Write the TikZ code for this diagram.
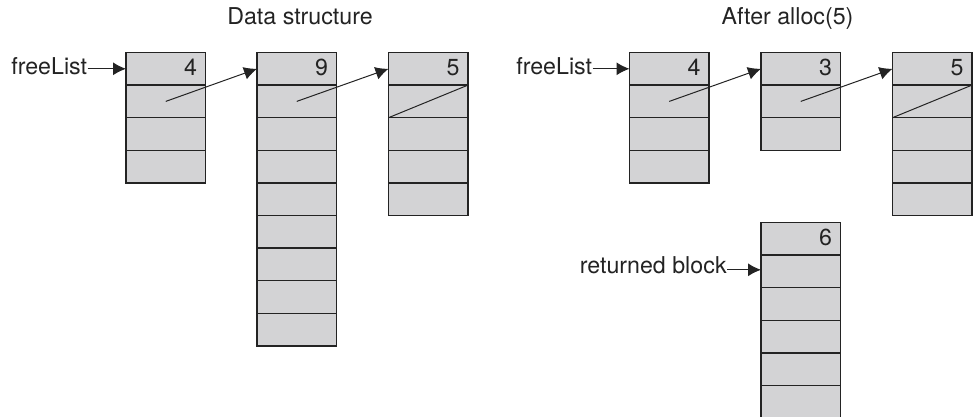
\documentclass[tikz,border=0pt]{standalone}
\usepackage{fontspec}
\setmainfont{TeX Gyre Heros}
\usetikzlibrary{arrows.meta}
\definecolor{cellfill}{RGB}{211,211,213}
\definecolor{ink}{RGB}{35,35,35}
\begin{document}
\begin{tikzpicture}[x=0.5pt,y=-0.5pt,
  cell/.style={draw=ink, fill=cellfill, line width=0.75pt, minimum width=39.75pt, minimum height=16.3pt, inner sep=0pt, outer sep=0pt, anchor=north west},
  txt/.style={inner sep=0pt, text=ink, font=\fontsize{11.6pt}{13pt}\selectfont},
  ptr/.style={draw=ink, line width=0.5pt, -{Latex[length=6.5pt,width=6.5pt]}},
  nil/.style={draw=ink, line width=0.5pt}]
\useasboundingbox (0,0) rectangle (973,417);
\clip (0,0) rectangle (973,417);
% blocks: name / left x / top y / rows / size
\foreach \n/\x/\y/\k/\v in {a1/126/52.5/4/4, a2/257/52.5/9/9, a3/388.5/52.5/5/5,
                            b1/629.5/52.5/4/4, b2/761/52.5/3/3, b3/892.5/52.5/5/5,
                            b4/761/222.5/6/6} {
  \foreach \i in {1,...,\k} {
    \node[cell] (\n-\i) at (\x,{\y+(\i-1)*32.6}) {};
  }
  \node[txt, anchor=base east] (\n-v) at ([xshift=-4pt,yshift=-3.2pt]\n-1.east) {\v};
}
% titles
\node[txt, anchor=base] (t1) at (300,25) {Data structure};
\node[txt, anchor=base] (t2) at (787.5,25) {After alloc(5)};
% freeList labels
\node[txt, anchor=base east] (fl1) at (87.5,75) {freeList};
\node[txt, anchor=base east] (fl2) at (592.5,75) {freeList};
\node[txt, anchor=base east] (rb) at (727,273.5) {returned block};
\draw[ptr] (fl1.east |- a1-1.west) -- (a1-1.west);
\draw[ptr] (fl2.east |- b1-1.west) -- (b1-1.west);
\draw[ptr] ([yshift=0.8pt]rb.east |- b4-2.west) -- ([yshift=0.8pt]b4-2.west);
% links
\draw[ptr] (a1-2.center) -- (a2-1.west);
\draw[ptr] (a2-2.center) -- (a3-1.west);
\draw[nil] (a3-2.south west) -- (a3-2.north east);
\draw[ptr] (b1-2.center) -- (b2-1.west);
\draw[ptr] (b2-2.center) -- (b3-1.west);
\draw[nil] (b3-2.south west) -- (b3-2.north east);
\end{tikzpicture}
\end{document}
